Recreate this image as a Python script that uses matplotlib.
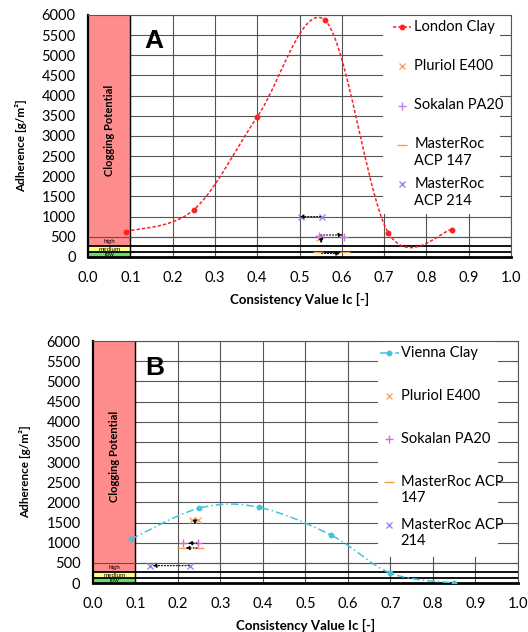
import matplotlib
matplotlib.use("Agg")
import matplotlib.pyplot as plt
from matplotlib.patches import Rectangle
import numpy as np

plt.rcParams['font.family'] = ['Lato', 'DejaVu Sans']

# ---------------------------------------------------------
# Data
# ---------------------------------------------------------
london_x = [0.09, 0.25, 0.40, 0.56, 0.71, 0.86]
london_y = [630, 1170, 3470, 5870, 600, 680]

vienna_x = [0.09, 0.25, 0.39, 0.56, 0.70, 0.85]
vienna_y = [1090, 1855, 1878, 1190, 245, 0]

# additive points, panel A
pluriol_a_x, pluriol_a_y = [0.545], [470]
sokalan_a_x, sokalan_a_y = [0.545, 0.605], [520, 490]
acp147_a_x, acp147_a_y = [0.544, 0.608], [116, 116]
acp214_a_x, acp214_a_y = [0.503, 0.554], [990, 1000]

# shift arrows, panel A: (x_from, y_from, x_to, y_to)
arrows_a = [(0.55, 1000, 0.50, 1000),
            (0.55, 545, 0.602, 545),
            (0.551, 470, 0.551, 340),
            (0.552, 90, 0.596, 80)]

# additive points, panel B
pluriol_b_x, pluriol_b_y = [0.232, 0.247], [1570, 1570]
sokalan_b_x, sokalan_b_y = [0.211, 0.247], [990, 990]
acp147_b_x, acp147_b_y = [0.210, 0.250], [870, 870]
acp214_b_x, acp214_b_y = [0.133, 0.228], [430, 430]

arrows_b = [(0.240, 1570, 0.240, 1450),
            (0.245, 990, 0.224, 990),
            (0.245, 870, 0.218, 870),
            (0.226, 430, 0.140, 430)]

x_ticks = [0.0, 0.1, 0.2, 0.3, 0.4, 0.5, 0.6, 0.7, 0.8, 0.9, 1.0]
y_ticks = list(range(0, 6001, 500))

# clogging potential classes on the adherence axis
low_top = 125
medium_top = 275

COL_PLURIOL = '#F2A66E'
COL_SOKALAN = '#C77BEA'
COL_ACP147 = '#F0A040'
COL_ACP214 = '#8C8CF0'


def excel_smooth(xs, ys, n=40):
    # Bezier smoothing like a spreadsheet "smoothed line"
    pts = np.column_stack([xs, ys]).astype(float)
    out = []
    for i in range(len(pts) - 1):
        p0 = pts[i]
        p3 = pts[i + 1]
        prev = pts[i - 1] if i > 0 else pts[i]
        nxt = pts[i + 2] if i + 2 < len(pts) else pts[i + 1]
        p1 = p0 + (p3 - prev) / 6.0
        p2 = p3 - (nxt - p0) / 6.0
        t = np.linspace(0, 1, n)[:, None]
        seg = ((1 - t) ** 3) * p0 + 3 * ((1 - t) ** 2) * t * p1 + 3 * (1 - t) * t ** 2 * p2 + t ** 3 * p3
        out.append(seg if i == 0 else seg[1:])
    out = np.vstack(out)
    return out[:, 0], out[:, 1]


def draw_legend(ax, entries, box, marker_x, text_x, top, step):
    # excel-like legend: equal slots, first text line level with the marker
    ax.add_patch(Rectangle(box[:2], box[2], box[3], transform=ax.transAxes,
                           facecolor='white', edgecolor='none', zorder=2))
    for i, (label, color, marker, ms, ls) in enumerate(entries):
        y = top - i * step
        if ls is not None:
            ax.plot([marker_x - 0.022, marker_x + 0.022], [y, y], transform=ax.transAxes,
                    color=color, linestyle=ls, linewidth=1.1, clip_on=False, zorder=7)
        ax.plot([marker_x], [y], transform=ax.transAxes, linestyle='none', marker=marker,
                markersize=ms, color=color, markeredgewidth=1.0, clip_on=False, zorder=7)
        ax.text(text_x, y, label, transform=ax.transAxes, fontsize=10.5, ha='left',
                va='top', linespacing=1.25, zorder=7,
                bbox=None).set_y(y + 0.031)


def draw_panel(ax, clay_x, clay_y, clay_label, clay_color, clay_ls, additives,
               arrows, letter, letter_xy):
    ax.set_xlim(0, 1.0)
    ax.set_ylim(0, 6000)
    ax.set_xticks(x_ticks)
    ax.set_xticklabels([f"{v:.1f}" for v in x_ticks])
    ax.set_yticks(y_ticks)
    ax.tick_params(length=0, labelsize=10.5)
    ax.tick_params(axis='y', pad=9)
    ax.tick_params(axis='x', pad=10)
    ax.grid(True, color='#555555', linewidth=0.8)
    ax.set_axisbelow(True)
    for s in ['top', 'right']:
        ax.spines[s].set_color('#555555')
        ax.spines[s].set_linewidth(0.8)
    ax.spines['left'].set_linewidth(1.6)
    ax.spines['bottom'].set_linewidth(2.0)

    # clogging potential zone
    ax.add_patch(Rectangle((0, 0), 0.1, 6000, facecolor='#FF8C8C', edgecolor='none', zorder=1))
    ax.add_patch(Rectangle((0, low_top), 0.1, medium_top - low_top, facecolor='#FFFF80',
                           edgecolor='none', zorder=1.1))
    ax.add_patch(Rectangle((0, 0), 0.1, low_top, facecolor='#66DD66', edgecolor='none', zorder=1.1))
    ax.axvline(0.1, color='black', linewidth=1.0, zorder=1.2)
    ax.axhline(500, color='#555555', linewidth=0.8, zorder=1.2)
    ax.axhline(low_top, color='black', linewidth=1.3, zorder=1.3)
    ax.axhline(medium_top, color='black', linewidth=1.3, zorder=1.3)
    ax.text(0.05, 3150, 'Clogging Potential', rotation=90, ha='center', va='center',
            fontsize=8, fontweight='bold', zorder=3)
    ax.text(0.05, 390, 'high', ha='center', va='center', fontsize=4.5, zorder=3)
    ax.text(0.05, 195, 'medium', ha='center', va='center', fontsize=4.5, zorder=3)
    ax.text(0.05, 55, 'low', ha='center', va='center', fontsize=4.5, zorder=3)

    # clay curve (smoothed) with point markers
    sx, sy = excel_smooth(clay_x, clay_y)
    ax.plot(sx, sy, color=clay_color, linestyle=clay_ls, linewidth=1.1, zorder=4)
    ax.plot(clay_x, clay_y, linestyle='none', marker='o', markersize=3.2, color=clay_color, zorder=5)

    # shift arrows
    for x0, y0, x1, y1 in arrows:
        ax.annotate('', xy=(x1, y1), xytext=(x0, y0),
                    arrowprops=dict(arrowstyle='-|>', color='black', linestyle=':',
                                    linewidth=0.8, mutation_scale=6,
                                    shrinkA=0, shrinkB=0), zorder=6)

    for xs, ys, label, color, marker, ms in additives:
        ax.plot(xs, ys, linestyle='none', marker=marker, markersize=ms, color=color,
                markeredgewidth=1.0, zorder=5)

    ax.text(letter_xy[0], letter_xy[1], letter, fontsize=19, fontweight='bold',
            family='Liberation Sans', ha='center', va='center', zorder=6)

    ax.set_xlabel('Consistency Value Ic [-]', fontsize=9.5, fontweight='bold', labelpad=6)
    ax.set_ylabel('Adherence [g/m²]', fontsize=8.5, fontweight='bold')
    ax.yaxis.set_label_coords(-0.145, 0.46)

    entries = [(clay_label, clay_color, 'o', 3.2, clay_ls)]
    entries += [(label, color, marker, ms, None) for _, _, label, color, marker, ms in additives]
    return entries


fig = plt.figure(figsize=(5.28, 6.32), dpi=100)
axA = fig.add_axes([0.1667, 0.5934, 0.8011, 0.3829])
axB = fig.add_axes([0.1761, 0.0775, 0.8049, 0.3829])

additives_a = [
    (pluriol_a_x, pluriol_a_y, 'Pluriol E400', COL_PLURIOL, 'x', 5),
    (sokalan_a_x, sokalan_a_y, 'Sokalan PA20', COL_SOKALAN, '+', 6),
    (acp147_a_x, acp147_a_y, 'MasterRoc\nACP 147', COL_ACP147, '_', 7),
    (acp214_a_x, acp214_a_y, 'MasterRoc\nACP 214', COL_ACP214, 'x', 5),
]
additives_b = [
    (pluriol_b_x, pluriol_b_y, 'Pluriol E400', COL_PLURIOL, 'x', 5),
    (sokalan_b_x, sokalan_b_y, 'Sokalan PA20', '#DD66DD', '+', 6),
    (acp147_b_x, acp147_b_y, 'MasterRoc ACP\n147', COL_ACP147, '_', 7),
    (acp214_b_x, acp214_b_y, 'MasterRoc ACP\n214', COL_ACP214, 'x', 5),
]

entries_a = draw_panel(axA, london_x, london_y, 'London Clay', '#FF2020', (0, (2.2, 1.3)),
                       additives_a, arrows_a, 'A', (0.155, 5360))
entries_b = draw_panel(axB, vienna_x, vienna_y, 'Vienna Clay', '#3EC4DC', (0, (5, 2, 1, 2)),
                       additives_b, arrows_b, 'B', (0.146, 5340))

draw_legend(axA, entries_a, (0.698, 0.178, 0.276, 0.822), 0.742, 0.771, 0.950, 0.1624)
draw_legend(axB, entries_b, (0.670, 0.107, 0.283, 0.893), 0.697, 0.724, 0.950, 0.1777)

fig.savefig('out.png', dpi=100)
